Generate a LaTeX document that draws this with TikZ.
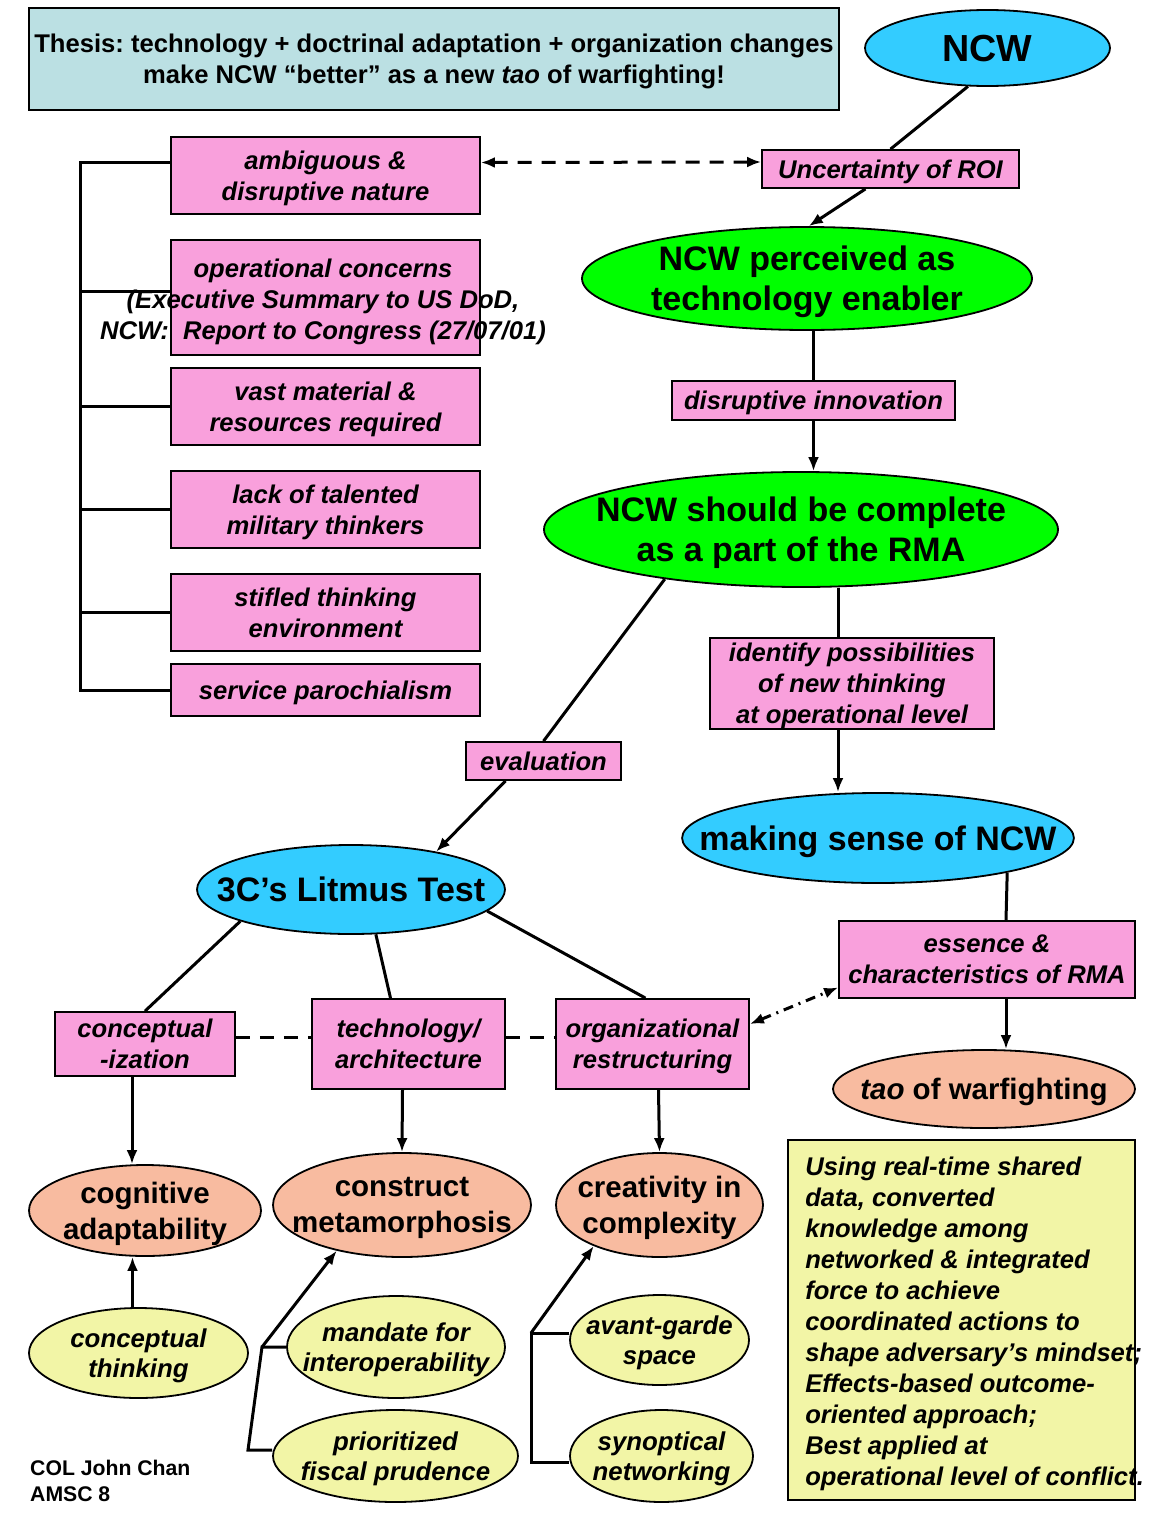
\documentclass[tikz,border=0pt]{standalone}
\usepackage{fontspec}
\setmainfont{Liberation Sans}
\frenchspacing
\usetikzlibrary{shapes.geometric,arrows.meta}

\definecolor{thesisblue}{RGB}{187,224,227}
\definecolor{ncwblue}{RGB}{51,204,255}
\definecolor{boxpink}{RGB}{249,160,220}
\definecolor{ncwgreen}{RGB}{0,255,0}
\definecolor{salmon}{RGB}{248,187,160}
\definecolor{paleyellow}{RGB}{242,245,166}

\tikzset{
  shapebase/.style={draw, line width=1.8pt, inner sep=-40pt, align=center},
  pinkbox/.style={shapebase, rectangle, fill=boxpink, text depth=-4pt, font=\bfseries\itshape\fontsize{25.6}{31}\selectfont},
  blueoval/.style={shapebase, ellipse, fill=ncwblue, text depth=-2.5pt, font=\bfseries\fontsize{34}{40}\selectfont},
  greenoval/.style={shapebase, ellipse, fill=ncwgreen, text depth=-4pt, font=\bfseries\fontsize{34}{40}\selectfont},
  salmonoval/.style={shapebase, ellipse, fill=salmon, text depth=-6.5pt, font=\bfseries\fontsize{29.5}{36}\selectfont},
  yellowoval/.style={shapebase, ellipse, fill=paleyellow, text depth=-6pt, font=\bfseries\itshape\fontsize{25.8}{30}\selectfont},
  link/.style={line width=3pt},
}

\begin{document}
\begin{tikzpicture}[x=1pt, y=-1pt, >={Latex[length=14pt,width=11pt]}]
        \useasboundingbox (0,0) rectangle (1156,1528);

        % thesis and top chain
        \node[shapebase, rectangle, fill=thesisblue, minimum width=810pt, minimum height=102pt, text depth=-6.6pt,
              font=\bfseries\fontsize{25.6}{31}\selectfont] (thesis) at (434,59)
              {Thesis: technology + doctrinal adaptation + organization changes\\make NCW “better” as a new \textit{tao} of warfighting!};
        \node[blueoval, minimum width=245pt, minimum height=76pt, text depth=-2pt, font=\bfseries\fontsize{37.7}{44}\selectfont] (ncw) at (987.5,48) {NCW};
        \node[pinkbox, minimum width=257pt, minimum height=38pt] (roi) at (890.5,169) {Uncertainty of ROI};
        \node[greenoval, minimum width=450pt, minimum height=103pt] (perceived) at (807,278.5) {NCW perceived as\\technology enabler};
        \node[pinkbox, minimum width=283pt, minimum height=39pt] (disrupt) at (813.5,400.5) {disruptive innovation};
        \node[greenoval, minimum width=514pt, minimum height=115pt] (complete) at (801,529.5) {NCW should be complete\\as a part of the RMA};
        \node[pinkbox, minimum width=284pt, minimum height=91pt] (identify) at (852,683.5) {identify possibilities\\of new thinking\\at operational level};
        \node[blueoval, minimum width=386pt, minimum height=90pt] (sense) at (878,838) {making sense of NCW};
        \node[pinkbox, minimum width=296pt, minimum height=77pt] (essence) at (987,959.5) {essence \&\\characteristics of RMA};
        \node[salmonoval, minimum width=302pt, minimum height=78pt, text depth=-1.5pt] (tao) at (984,1089) {\textit{tao} of warfighting};

        % concerns on the left
        \node[pinkbox, minimum width=309pt, minimum height=77pt] (ambig) at (325.5,175.5) {ambiguous \&\\disruptive nature};
        \node[pinkbox, minimum width=309pt, minimum height=115pt] (opcon) at (325.5,297.5) {};
        \node[align=center, inner sep=0pt, font=\bfseries\itshape\fontsize{25.6}{31}\selectfont] (opcontext) at (323,302)
              {operational concerns\\(Executive Summary to US DoD,\\NCW:\ \ Report to Congress (27/07/01)};
        \node[pinkbox, minimum width=309pt, minimum height=77pt] (vast) at (325.5,406.5) {vast material \&\\resources required};
        \node[pinkbox, minimum width=309pt, minimum height=77pt] (lack) at (325.5,509.5) {lack of talented\\military thinkers};
        \node[pinkbox, minimum width=309pt, minimum height=77pt] (stifled) at (325.5,612.5) {stifled thinking\\environment};
        \node[pinkbox, minimum width=309pt, minimum height=52pt] (service) at (325.5,690) {service parochialism};

        % litmus test branch
        \node[pinkbox, minimum width=155pt, minimum height=38pt] (evaluation) at (543.5,761) {evaluation};
        \node[blueoval, minimum width=308pt, minimum height=89pt] (litmus) at (351,889.5) {3C’s Litmus Test};
        \node[pinkbox, minimum width=180pt, minimum height=64pt] (concept) at (145,1044) {conceptual\\-ization};
        \node[pinkbox, minimum width=193pt, minimum height=90pt] (techarch) at (408.5,1044) {technology/\\architecture};
        \node[pinkbox, minimum width=193pt, minimum height=90pt] (orgres) at (652.5,1044) {organizational\\restructuring};
        \node[salmonoval, minimum width=232pt, minimum height=91pt] (cognitive) at (145,1210.5) {cognitive\\adaptability};
        \node[salmonoval, minimum width=258pt, minimum height=104pt] (construct) at (402,1205) {construct\\metamorphosis};
        \node[salmonoval, minimum width=207pt, minimum height=104pt] (creativity) at (659.5,1205) {creativity in\\complexity};
        \node[yellowoval, minimum width=219pt, minimum height=90pt] (concthink) at (138.5,1353) {conceptual\\thinking};
        \node[yellowoval, minimum width=218pt, minimum height=102pt] (mandate) at (396,1347) {mandate for\\interoperability};
        \node[yellowoval, minimum width=245pt, minimum height=92pt] (prio) at (395.5,1456) {prioritized\\fiscal prudence};
        \node[yellowoval, minimum width=179pt, minimum height=90pt] (avant) at (659.5,1340) {avant-garde\\space};
        \node[yellowoval, minimum width=183pt, minimum height=92pt] (synopt) at (661.5,1456) {synoptical\\networking};

        % note and author
        \node[shapebase, rectangle, fill=paleyellow, minimum width=347pt, minimum height=360pt] (note) at (961.5,1320) {};
        \node[anchor=west, align=left, inner sep=0pt, font=\bfseries\itshape\fontsize{25.6}{31}\selectfont] (notetext) at ([xshift=18pt,yshift=-4pt]note.west)
              {Using real-time shared\\data, converted\\knowledge among\\networked \& integrated\\force to achieve\\coordinated actions to\\shape adversary’s mindset;\\Effects-based outcome-\\oriented approach;\\Best applied at\\operational level of conflict.};
        \node[anchor=west, align=left, inner sep=0pt, font=\bfseries\fontsize{21.2}{26}\selectfont] (author) at (30,1481) {COL John Chan\\AMSC 8};

        % connectors
        \draw[link] (ncw.243) -- (roi.north);
        \draw[link,->] ([xshift=-25pt]roi.south) -- (perceived.88);
        \draw[link,<->,dash pattern=on 14pt off 10pt] ([yshift=13pt]ambig.east) -- ([yshift=7pt]roi.west);
        \draw[link] (perceived.south -| disrupt.north) -- (disrupt.north);
        \draw[link,->] (disrupt.south) -- (disrupt.south |- complete.north);
        \draw[link] ([xshift=-14pt]identify.north) -- ([xshift=-14pt]identify.north |- complete.south);
        \draw[link,->] ([xshift=-14pt]identify.south) -- ([xshift=-14pt]identify.south |- sense.north);
        \draw[link] (sense.345) -- ([xshift=19pt]essence.north);
        \draw[link,->] ([xshift=19pt]essence.south) -- ([xshift=19pt]essence.south |- tao.north);
        \draw[link] (complete.200) -- (evaluation.north);
        \draw[link,->] ([xshift=-38pt]evaluation.south) -- (litmus.24);
        \draw[link] (litmus.196) -- (concept.north);
        \draw[link] (litmus.299) -- ([xshift=-18pt]techarch.north);
        \draw[link] (litmus.351) -- ([xshift=-7pt]orgres.north);
        \draw[link,dash pattern=on 14pt off 10pt] ([yshift=7pt]concept.east) -- ([yshift=7pt]techarch.west);
        \draw[link,dash pattern=on 14pt off 10pt] ([yshift=7pt]techarch.east) -- ([yshift=7pt]orgres.west);
        \draw[link,<->,dash pattern=on 10pt off 6pt on 2pt off 6pt] ([yshift=20pt]orgres.east) -- ([yshift=-28pt]essence.west);
        \draw[link,->] ([xshift=-13pt]concept.south) -- ([xshift=-13pt]concept.south |- cognitive.north);
        \draw[link,->] ([xshift=-6pt]techarch.south) -- (construct.north);
        \draw[link,->] ([xshift=6pt]orgres.south) -- (creativity.north);
        \draw[link,->] ([xshift=-6pt]concthink.north) -- ([xshift=-6pt]concthink.north |- cognitive.south);

        % brackets
        \draw[link] ([yshift=13pt]ambig.west) -- ++(-90,0) |- (service.west);
        \foreach \b/\s in {opcon/6,vast/0,lack/0,stifled/0}
            \draw[link] ([yshift=\s pt]\b.west) -- ++(-90,0);

        \coordinate (cmj) at (262,1347);
        \coordinate (cmk) at (248,1450);
        \draw[link,->] (cmj) -- (construct.215);
        \draw[link] (cmj -| mandate.west) -- (cmj) -- (cmk) -- (cmk -| prio.west);

        \coordinate (crj) at (531,1333);
        \coordinate (crk) at (531,1462);
        \draw[link,->] (crj) -- (creativity.212);
        \draw[link] (crj -| avant.west) -- (crj) -- (crk) -- (crk -| synopt.west);
\end{tikzpicture}
\end{document}
